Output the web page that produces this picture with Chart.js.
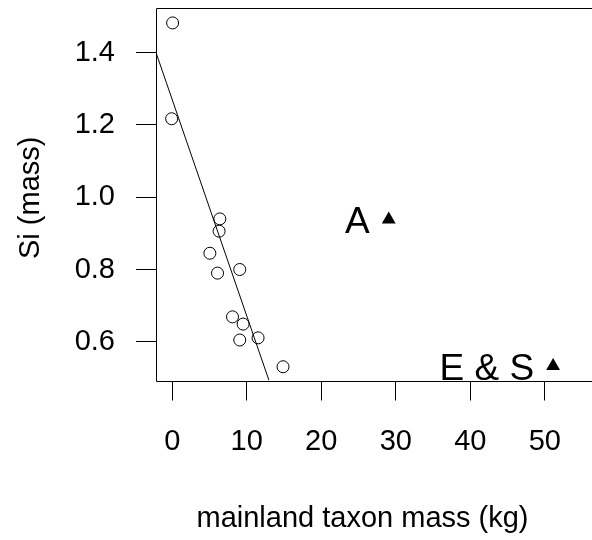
<!DOCTYPE html>
<html>
<head>
<meta charset="utf-8">
<script src="https://cdn.jsdelivr.net/npm/chart.js@4/dist/chart.umd.min.js"></script>
<style>
  html, body { margin: 0; padding: 0; background: #fff; overflow: hidden; }
  #wrap { width: 600px; height: 540px; }
</style>
</head>
<body>
<div id="wrap"><canvas id="c" width="600" height="540"></canvas></div>
<script>
// ---- data ----
const islandX = [0.05, -0.08, 6.39, 6.29, 5.05, 6.08, 9.06, 8.09, 9.51, 9.06, 11.52, 14.87];
const islandY = [1.482, 1.217, 0.940, 0.906, 0.845, 0.790, 0.800, 0.669, 0.649, 0.605, 0.611, 0.531];
const labeledNames = ['A', 'E & S'];
const labeledX = [29.06, 51.12];
const labeledY = [0.938, 0.533];
const fitLineX = [-2.18, 12.99];
const fitLineY = [1.40, 0.493];
const xTickValues = [0, 10, 20, 30, 40, 50];
const yTickValues = [0.6, 0.8, 1.0, 1.2, 1.4];
const xTitle = 'mainland taxon mass (kg)';
const yTitle = 'Si (mass)';

const FONT = "'Liberation Sans', Arial, Helvetica, sans-serif";

const toPts = (xs, ys) => xs.map((x, i) => ({ x: x, y: ys[i] }));

const framePlugin = {
  id: 'frameAndText',
  afterDraw(chart) {
    const ctx = chart.ctx;
    const a = chart.chartArea;
    ctx.save();
    ctx.strokeStyle = '#000';
    ctx.lineWidth = 1;
    const L = Math.round(a.left) + 0.5, T = Math.round(a.top) + 0.5, B = Math.round(a.bottom) + 0.5;
    ctx.beginPath();
    ctx.moveTo(chart.width + 2, T); ctx.lineTo(L, T); ctx.lineTo(L, B); ctx.lineTo(chart.width + 2, B);
    ctx.stroke();
    // point labels
    const xs = chart.scales.x, ys = chart.scales.y;
    ctx.fillStyle = '#000';
    ctx.font = '37px ' + FONT;
    ctx.textAlign = 'right';
    ctx.textBaseline = 'alphabetic';
    labeledNames.forEach((n, i) => {
      const px = xs.getPixelForValue(labeledX[i]);
      const py = ys.getPixelForValue(labeledY[i]);
      ctx.fillText(n, px - 19, py + 13.5);
    });
    // axis titles
    ctx.font = '29px ' + FONT;
    ctx.textAlign = 'center';
    ctx.fillText(xTitle, a.left + 206.5, 527);
    ctx.translate(39, (a.top + a.bottom) / 2 + 3.5);
    ctx.rotate(-Math.PI / 2);
    ctx.fillText(yTitle, 0, 0);
    ctx.restore();
  }
};

new Chart(document.getElementById('c'), {
  type: 'scatter',
  data: {
    datasets: [
      {
        label: 'islands',
        data: toPts(islandX, islandY),
        pointStyle: 'circle',
        pointRadius: 6,
        pointBorderWidth: 1,
        pointBorderColor: '#000',
        pointBackgroundColor: 'rgba(0,0,0,0)'
      },
      {
        label: 'labeled',
        data: toPts(labeledX, labeledY),
        pointStyle: 'triangle',
        pointRadius: 8,
        pointBorderWidth: 0,
        pointBorderColor: '#000',
        pointBackgroundColor: '#000'
      },
      {
        type: 'line',
        label: 'fit',
        data: toPts(fitLineX, fitLineY),
        borderColor: '#000',
        borderWidth: 1,
        pointRadius: 0,
        fill: false
      }
    ]
  },
  options: {
    responsive: false,
    animation: false,
    devicePixelRatio: 1,
    layout: { padding: { top: 7, left: 0, right: 0, bottom: 0 } },
    plugins: { legend: { display: false }, tooltip: { enabled: false }, title: { display: false } },
    scales: {
      x: {
        type: 'linear',
        min: -2.18,
        max: 56.34,
        afterBuildTicks: s => { s.ticks = xTickValues.map(v => ({ value: v })); },
        afterFit: s => { s.height = 159.5; s.paddingLeft = 0; s.paddingRight = 0; },
        grid: { display: true, drawOnChartArea: false, drawTicks: true, tickLength: 20, color: '#000', lineWidth: 1 },
        border: { display: false },
        ticks: { color: '#000', padding: 24, font: { family: FONT, size: 29 }, maxRotation: 0, autoSkip: false,
                 callback: v => String(v) }
      },
      y: {
        type: 'linear',
        min: 0.493,
        max: 1.5233,
        afterBuildTicks: s => { s.ticks = yTickValues.map(v => ({ value: v })); },
        afterFit: s => { s.width = 156; s.paddingTop = 0; s.paddingBottom = 0; },
        grid: { display: true, drawOnChartArea: false, drawTicks: true, tickLength: 20, color: '#000', lineWidth: 1 },
        border: { display: false },
        ticks: { color: '#000', padding: 21, font: { family: FONT, size: 29 }, autoSkip: false,
                 callback: v => v.toFixed(1) }
      }
    }
  },
  plugins: [framePlugin]
});
</script>
</body>
</html>
